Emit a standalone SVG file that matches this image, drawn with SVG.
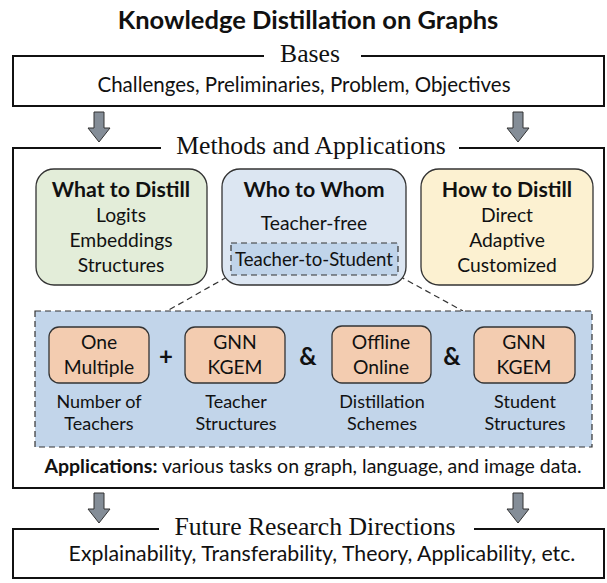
<svg xmlns="http://www.w3.org/2000/svg" width="607" height="583" viewBox="0 0 607 583">
<defs>
<style>
.sans{font-family:Lato,"Open Sans","Liberation Sans",sans-serif;fill:#111}
.serif{font-family:"Liberation Serif","DejaVu Serif",serif;fill:#111;font-size:25.7px;text-anchor:middle}
.t{font-size:19.3px;text-anchor:middle}
.l{font-size:18px;text-anchor:middle}
.h{font-size:21.3px;font-weight:bold;text-anchor:middle}
.frame{fill:none;stroke:#111;stroke-width:2}
.card{stroke:#333;stroke-width:1.3}
.dash{fill:none;stroke:#333;stroke-width:1.2;stroke-dasharray:6 4}
.arrow{fill:#848d97;stroke:#333;stroke-width:1}
.op{font-size:24px;font-weight:bold;text-anchor:middle}
</style>
<path id="arr" d="M-5,0 H5 V16 H11 L0,30 L-11,16 H-5 Z"/>
</defs>
<rect width="607" height="583" fill="#fff"/>
<text class="sans" x="308" y="29" style="font-size:25.5px;font-weight:bold;text-anchor:middle">Knowledge Distillation on Graphs</text>

<g id="bases">
<rect class="frame" x="13" y="56" width="591" height="50"/>
<rect x="264" y="46" width="97" height="16" fill="#fff"/>
<text class="serif" x="310" y="62">Bases</text>
<text class="sans" x="304" y="92" style="font-size:20.5px;text-anchor:middle">Challenges, Preliminaries, Problem, Objectives</text>
</g>

<g id="connectors">
<use href="#arr" x="99" y="112" class="arrow"/>
<use href="#arr" x="518" y="112" class="arrow"/>
<use href="#arr" x="99" y="493" class="arrow"/>
<use href="#arr" x="518" y="493" class="arrow"/>
<line class="dash" x1="227" y1="277" x2="167" y2="311"/>
<line class="dash" x1="399" y1="276" x2="463" y2="311"/>
</g>

<g id="methods">
<rect class="frame" x="13" y="148" width="591" height="340"/>
<rect x="161" y="138" width="298" height="18" fill="#fff"/>
<text class="serif" x="311" y="154">Methods and Applications</text>
</g>

<g id="what">
<rect class="card" x="36" y="169" width="171" height="116" rx="18" fill="#e3edd9"/>
<text class="sans h" x="121" y="197">What to Distill</text>
<text class="sans t" x="121" y="222">Logits</text>
<text class="sans t" x="121" y="247">Embeddings</text>
<text class="sans t" x="121" y="272">Structures</text>
</g>

<g id="who">
<rect class="card" x="222" y="169" width="184" height="116" rx="18" fill="#dce6f2"/>
<text class="sans h" x="314" y="197">Who to Whom</text>
<text class="sans t" x="314" y="230">Teacher-free</text>
<rect class="dash" x="231" y="243" width="167" height="32" style="fill:#c0d4ea"/>
<text class="sans" x="314" y="266" style="font-size:18.6px;text-anchor:middle">Teacher-to-Student</text>
</g>

<g id="how">
<rect class="card" x="421" y="169" width="172" height="116" rx="18" fill="#fcf1d1"/>
<text class="sans h" x="507" y="197">How to Distill</text>
<text class="sans t" x="507" y="222">Direct</text>
<text class="sans t" x="507" y="247">Adaptive</text>
<text class="sans t" x="507" y="272">Customized</text>
</g>

<g id="tts-detail">
<rect class="dash" x="35" y="311" width="557" height="136" style="fill:#c2d5ea"/>
</g>

<g id="num-teachers">
<rect class="card" x="49" y="327" width="100" height="56" rx="10" fill="#f3ccb0"/>
<text class="sans t" x="99" y="349">One</text>
<text class="sans t" x="99" y="374">Multiple</text>
<text class="sans l" x="99" y="408">Number of</text>
<text class="sans l" x="99" y="430">Teachers</text>
</g>
<text class="sans op" x="166" y="365">+</text>
<g id="teacher-struct">
<rect class="card" x="185" y="327" width="100" height="56" rx="10" fill="#f3ccb0"/>
<text class="sans t" x="235" y="349">GNN</text>
<text class="sans t" x="235" y="374">KGEM</text>
<text class="sans l" x="236" y="408">Teacher</text>
<text class="sans l" x="236" y="430">Structures</text>
</g>
<text class="sans op" x="308" y="365">&amp;</text>
<g id="schemes">
<rect class="card" x="332" y="326" width="99" height="57" rx="10" fill="#f3ccb0"/>
<text class="sans t" x="381" y="349">Offline</text>
<text class="sans t" x="381" y="374">Online</text>
<text class="sans l" x="382" y="408">Distillation</text>
<text class="sans l" x="382" y="430">Schemes</text>
</g>
<text class="sans op" x="452" y="365">&amp;</text>
<g id="student-struct">
<rect class="card" x="474" y="327" width="101" height="56" rx="10" fill="#f3ccb0"/>
<text class="sans t" x="524" y="349">GNN</text>
<text class="sans t" x="524" y="374">KGEM</text>
<text class="sans l" x="525" y="408">Student</text>
<text class="sans l" x="525" y="430">Structures</text>
</g>

<g id="applications">
<text class="sans" x="313" y="473" style="font-size:19.5px;text-anchor:middle"><tspan font-weight="bold">Applications:</tspan> various tasks on graph, language, and image data.</text>
</g>

<g id="future">
<rect class="frame" x="13" y="529" width="591" height="49"/>
<rect x="159" y="519" width="315" height="18" fill="#fff"/>
<text class="serif" x="315" y="535">Future Research Directions</text>
<text class="sans" x="322" y="561" style="font-size:21.3px;text-anchor:middle">Explainability, Transferability, Theory, Applicability, etc.</text>
</g>
</svg>
